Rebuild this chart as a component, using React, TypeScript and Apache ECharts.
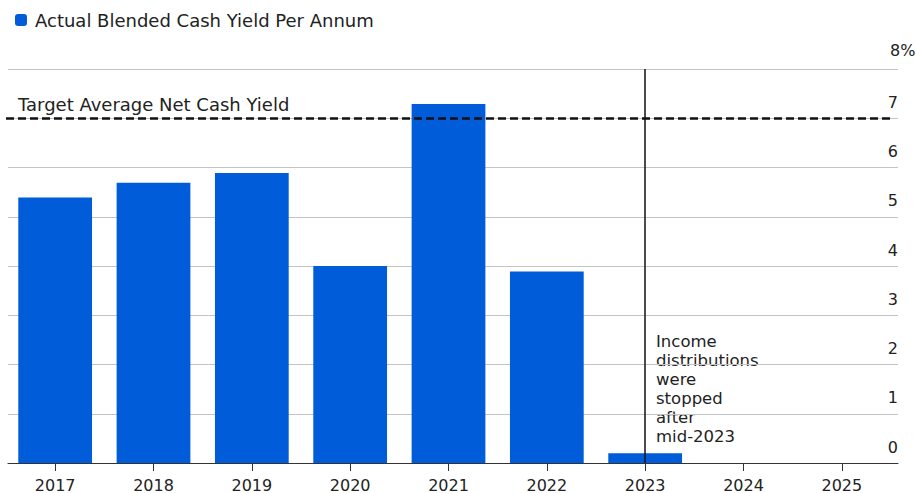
import React, { useEffect, useRef } from "react";
import * as echarts from "echarts";

const categories = ["2017", "2018", "2019", "2020", "2021", "2022", "2023", "2024", "2025"];
const yieldValues = [5.39, 5.69, 5.89, 4.0, 7.29, 3.89, 0.2, null, null];
const targetYield = 7;
const seriesName = "Actual Blended Cash Yield Per Annum";
const targetLabel = "Target Average Net Cash Yield";
const stopYear = "2023";
const noteText = "Income\ndistributions\nwere\nstopped\nafter\nmid-2023";
const yMin = 0;
const yMax = 8;
const yInterval = 1;

const FONT = "DejaVu Sans";
const BLUE = "#005cd9";

export default function App() {
  const ref = useRef<HTMLDivElement>(null);
  useEffect(() => {
    if (!ref.current) return;
    const chart = echarts.init(ref.current, null, { renderer: "svg" });
    chart.setOption({
      animation: false,
      textStyle: { fontFamily: FONT },
      legend: {
        left: 10,
        top: 6,
        icon: "roundRect",
        itemWidth: 12,
        itemHeight: 12,
        itemGap: 10,
        textStyle: { fontFamily: FONT, fontSize: 18, color: "#222", padding: [0, 0, 0, 3] },
        data: [seriesName],
      },
      grid: [
        { left: 6, right: 25, top: 69, bottom: 30 },
        { left: 8, right: 18, top: 69, bottom: 30 },
      ],
      xAxis: [
        {
          type: "category",
          gridIndex: 0,
          data: categories,
          axisLine: { show: false },
          axisTick: { show: true, alignWithLabel: true, length: 8, lineStyle: { color: "#333", width: 1 } },
          axisLabel: { fontFamily: FONT, fontSize: 16, color: "#222", margin: 14 },
          splitLine: { show: false },
        },
        {
          type: "value",
          gridIndex: 1,
          min: 0,
          max: 1,
          axisLine: { show: true, onZero: false, lineStyle: { color: "#333", width: 1 } },
          axisTick: { show: false },
          axisLabel: { show: false },
          splitLine: { show: false },
        },
      ],
      yAxis: [
        { type: "value", gridIndex: 0, min: yMin, max: yMax, interval: yInterval, show: false },
        {
          type: "value",
          gridIndex: 1,
          position: "right",
          min: yMin,
          max: yMax,
          interval: yInterval,
          axisLine: { show: false },
          axisTick: { show: false },
          splitLine: { show: true, lineStyle: { color: "#c4c4c4", width: 1 } },
          axisLabel: {
            inside: true,
            margin: 0,
            align: "right",
            verticalAlign: "bottom",
            padding: [0, 0, 8, 0],
            fontFamily: FONT,
            fontSize: 16,
            color: "#222",
            formatter: (v: number) => (v === yMax ? "" : String(v)),
          },
        },
      ],
      graphic: [
        {
          type: "text",
          left: 890,
          top: 42,
          style: { text: yMax + "%", fontFamily: FONT, fontSize: 16, fill: "#222" },
        },
        {
          type: "text",
          left: 656,
          top: 332,
          style: { text: noteText, fontFamily: FONT, fontSize: 16.5, lineHeight: 19, fill: "#222" },
        },
      ],
      series: [
        {
          name: seriesName,
          type: "bar",
          xAxisIndex: 0,
          yAxisIndex: 0,
          data: yieldValues,
          barCategoryGap: "25%",
          itemStyle: { color: BLUE },
          markLine: {
            silent: true,
            symbol: "none",
            data: [
              {
                yAxis: targetYield,
                lineStyle: { type: [8, 4], color: "#111", width: 2.5 },
                label: {
                  show: true,
                  position: "insideStartTop",
                  formatter: targetLabel,
                  fontFamily: FONT,
                  fontSize: 18,
                  color: "#222",
                  distance: [12, 5],
                },
              },
              {
                xAxis: stopYear,
                lineStyle: { type: "solid", color: "#111", width: 1.5 },
                label: { show: false },
              },
            ],
          },
        },
      ],
    });
    return () => chart.dispose();
  }, []);
  return <div ref={ref} style={{ position: "absolute", left: 0, top: 0, width: 916, height: 493 }} />;
}
